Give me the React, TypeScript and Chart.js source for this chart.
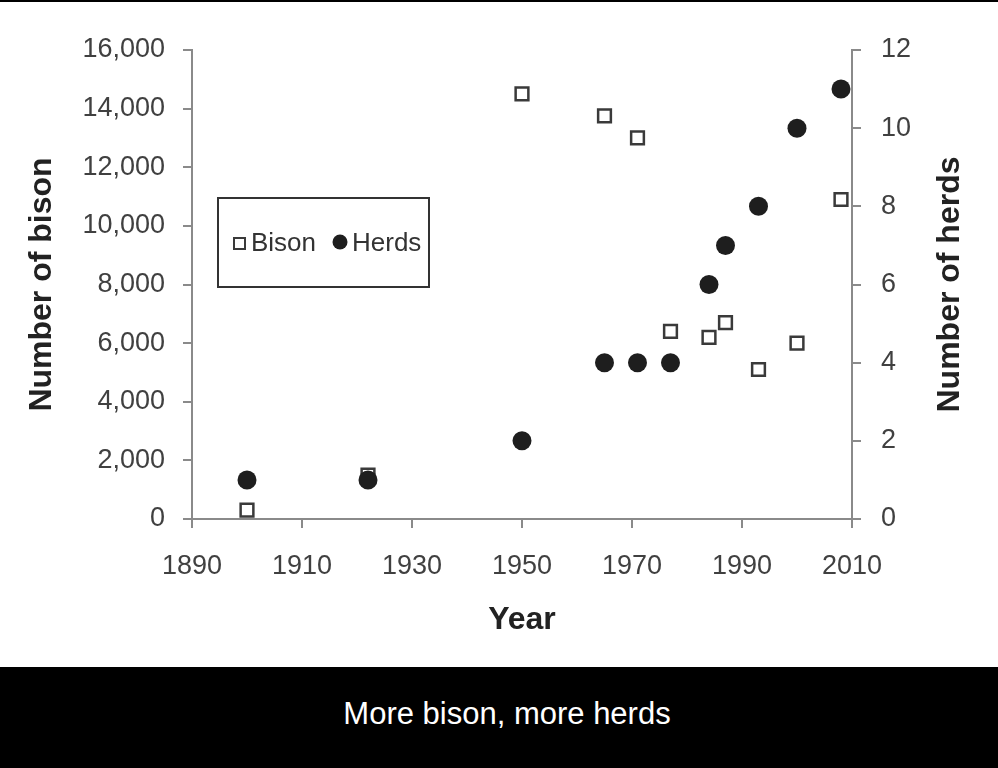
import React, { useEffect, useRef } from "react";
import { Chart, registerables } from "chart.js";

Chart.register(...registerables);

const yearTicks = [1890, 1910, 1930, 1950, 1970, 1990, 2010];
const bisonYears = [1900, 1922, 1950, 1965, 1971, 1977, 1984, 1987, 1993, 2000, 2008];
const bisonCounts = [300, 1500, 14500, 13750, 13000, 6400, 6200, 6700, 5100, 6000, 10900];
const herdYears = [1900, 1922, 1950, 1965, 1971, 1977, 1984, 1987, 1993, 2000, 2008];
const herdCounts = [1, 1, 2, 4, 4, 4, 6, 7, 8, 10, 11];

const FONT = "'Liberation Sans', Arial, sans-serif";
const AXIS_GRAY = "#8a8a8a";
const TEXT_GRAY = "#404040";

const overlayPlugin = {
  id: "overlay",
  afterDraw(chart: any) {
    const { ctx, chartArea } = chart;
    ctx.save();
    // Legend box
    const bx = chartArea.left + 26;
    const by = chartArea.top + 148;
    const bw = 211;
    const bh = 89;
    ctx.strokeStyle = "#333333";
    ctx.lineWidth = 2;
    ctx.strokeRect(bx, by, bw, bh);
    const cy = by + 45;
    const ds = chart.data.datasets;
    const bison = ds.find((d: any) => d.label === "Bison");
    const herds = ds.find((d: any) => d.label === "Herds");
    // bison marker
    ctx.fillStyle = "#ffffff";
    ctx.strokeStyle = bison.borderColor;
    ctx.lineWidth = 2;
    ctx.fillRect(bx + 16, cy - 5, 11, 11);
    ctx.strokeRect(bx + 16, cy - 5, 11, 11);
    ctx.font = `26px ${FONT}`;
    ctx.fillStyle = "#333333";
    ctx.textBaseline = "middle";
    ctx.textAlign = "left";
    ctx.fillText(bison.label, bx + 33, cy + 1);
    // herds marker
    ctx.beginPath();
    ctx.arc(bx + 122, cy - 1, 7.5, 0, Math.PI * 2);
    ctx.fillStyle = herds.backgroundColor;
    ctx.fill();
    ctx.fillStyle = "#333333";
    ctx.fillText(herds.label, bx + 134, cy + 1);
    // right axis title (reads bottom-to-top)
    ctx.translate(950, (chartArea.top + chartArea.bottom) / 2);
    ctx.rotate(-Math.PI / 2);
    ctx.font = `bold 32px ${FONT}`;
    ctx.fillStyle = "#222222";
    ctx.textAlign = "center";
    ctx.textBaseline = "middle";
    ctx.fillText("Number of herds", 0, 0);
    ctx.restore();
  },
};

export default function App() {
  const canvasRef = useRef<HTMLCanvasElement | null>(null);

  useEffect(() => {
    if (!canvasRef.current) return;
    const chart = new Chart(canvasRef.current, {
      type: "scatter",
      data: {
        datasets: [
          {
            label: "Herds",
            data: herdYears.map((x, i) => ({ x, y: herdCounts[i] })),
            yAxisID: "y1",
            pointStyle: "circle",
            pointRadius: 9.5,
            backgroundColor: "#1e1e1e",
            borderColor: "#1e1e1e",
            borderWidth: 0,
            order: 0,
          },
          {
            label: "Bison",
            data: bisonYears.map((x, i) => ({ x, y: bisonCounts[i] })),
            yAxisID: "y",
            pointStyle: "rect",
            pointRadius: 9,
            backgroundColor: "#ffffff",
            borderColor: "#3a3a3a",
            borderWidth: 2.5,
            order: 1,
          },
        ],
      },
      options: {
        animation: false,
        responsive: false,
        maintainAspectRatio: false,
        layout: { padding: { top: 50, left: 0, right: 0, bottom: 0 } },
        plugins: {
          legend: { display: false },
          tooltip: { enabled: false },
        },
        scales: {
          x: {
            type: "linear",
            position: "bottom",
            min: 1890,
            max: 2010,
            afterBuildTicks: (scale: any) => {
              scale.ticks = yearTicks.map((v) => ({ value: v }));
            },
            afterFit: (scale: any) => {
              scale.height = 148;
            },
            grid: {
              display: true,
              drawOnChartArea: false,
              drawTicks: true,
              tickLength: 9,
              color: AXIS_GRAY,
              lineWidth: 2,
            },
            border: { display: true, color: AXIS_GRAY, width: 2 },
            ticks: {
              color: TEXT_GRAY,
              font: { family: FONT, size: 27 },
              padding: 22,
              maxRotation: 0,
              callback: (v: any) => String(v),
            },
            title: {
              display: true,
              text: "Year",
              color: "#222222",
              font: { family: FONT, size: 32, weight: "bold" },
              padding: { top: 0, bottom: 28 },
            },
          },
          y: {
            type: "linear",
            position: "left",
            min: 0,
            max: 16000,
            afterFit: (scale: any) => {
              scale.width = 192;
            },
            grid: {
              display: true,
              drawOnChartArea: false,
              drawTicks: true,
              tickLength: 9,
              color: AXIS_GRAY,
              lineWidth: 2,
            },
            border: { display: true, color: AXIS_GRAY, width: 2 },
            ticks: {
              stepSize: 2000,
              color: TEXT_GRAY,
              font: { family: FONT, size: 27 },
              padding: 18,
              callback: (v: any) => Number(v).toLocaleString("en-US"),
            },
            title: {
              display: true,
              text: "Number of bison",
              color: "#222222",
              font: { family: FONT, size: 32, weight: "bold" },
              padding: { top: 23, bottom: 0 },
            },
          },
          y1: {
            type: "linear",
            position: "right",
            min: 0,
            max: 12,
            afterFit: (scale: any) => {
              scale.width = 146;
            },
            grid: {
              display: true,
              drawOnChartArea: false,
              drawTicks: true,
              tickLength: 9,
              color: AXIS_GRAY,
              lineWidth: 2,
            },
            border: { display: true, color: AXIS_GRAY, width: 2 },
            ticks: {
              stepSize: 2,
              color: TEXT_GRAY,
              font: { family: FONT, size: 27 },
              padding: 20,
            },
            title: { display: false },
          },
        },
      },
      plugins: [overlayPlugin],
    });
    return () => chart.destroy();
  }, []);

  return (
    <div
      style={{
        position: "absolute",
        left: 0,
        top: 0,
        width: 998,
        height: 768,
        background: "#ffffff",
        overflow: "hidden",
      }}
    >
      <div
        style={{
          position: "absolute",
          left: 0,
          top: 0,
          width: 998,
          height: 667,
        }}
      >
        <canvas ref={canvasRef} width={998} height={667} style={{ width: 998, height: 667 }} />
      </div>
      <div style={{ position: "absolute", left: 0, top: 0, width: 998, height: 2, background: "#000" }} />
      <div
        style={{
          position: "absolute",
          left: 0,
          top: 667,
          width: 998,
          height: 101,
          background: "#000",
          color: "#fff",
          fontFamily: FONT,
          fontSize: 31,
          display: "flex",
          alignItems: "center",
          justifyContent: "center",
          paddingLeft: 16,
          paddingBottom: 8,
          boxSizing: "border-box",
        }}
      >
        More bison, more herds
      </div>
    </div>
  );
}
